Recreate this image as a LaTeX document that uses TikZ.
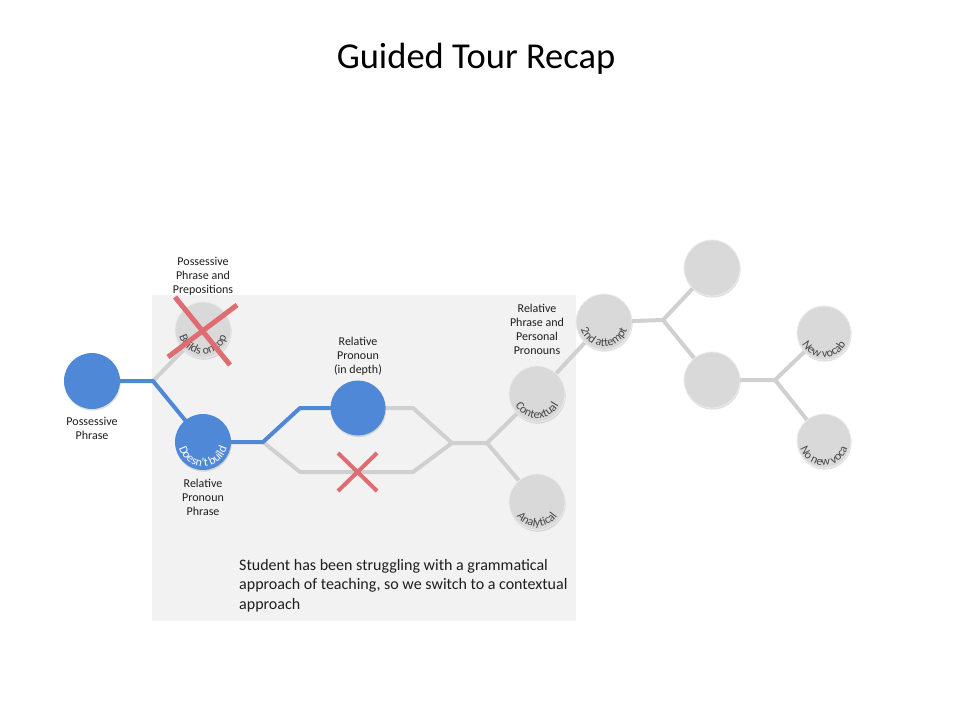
\documentclass[tikz,border=0pt]{standalone}
\usepackage{fontspec}
\setmainfont{Carlito}
\usetikzlibrary{decorations.text,shadows}
\definecolor{bluec}{RGB}{79,136,214}
\definecolor{grayc}{RGB}{217,217,217}
\definecolor{linec}{RGB}{208,208,208}
\definecolor{bgc}{RGB}{242,242,242}
\definecolor{redx}{RGB}{222,108,112}
\definecolor{labc}{RGB}{30,30,30}
\definecolor{arcc}{RGB}{70,70,70}
\newcommand\arctext[3]{%
  \path[decorate,decoration={text along path,text align=center,
    text={|\color{#3}\fontsize{12}{12}\selectfont|#2}}]
    ([shift={(160:24.5)}]#1.center) arc (160:380:24.5);}
\begin{document}
\begin{tikzpicture}[x=1pt,y=1pt,
  bubble/.style={circle,minimum size=56pt,inner sep=0pt,
    drop shadow={shadow xshift=0.6pt,shadow yshift=-1.6pt,opacity=0.25}},
  bluenode/.style={bubble,fill=bluec},
  graynode/.style={bubble,fill=grayc,draw=white!85!gray,line width=0.8pt},
  link/.style={line width=4pt,linec,line join=round},
  bluelink/.style={line width=4pt,bluec,line join=round},
  lab/.style={align=center,inner sep=0pt,text=labc,font=\fontsize{12}{14}\selectfont},
  redcross/.style={line width=5pt,redx}]
\useasboundingbox (0,0) rectangle (955,-716);
\fill[white] (0,0) rectangle (955,-716);
\fill[bgc] (152,-295) rectangle (576,-621);

\node[anchor=base,font=\fontsize{36.5}{44}\selectfont,inner sep=0pt] (title) at (476,-68) {Guided Tour Recap};

% junction coordinates
\coordinate (j1) at (153,-381);
\coordinate (j2) at (263,-442);
\coordinate (u1) at (300,-408);
\coordinate (u2) at (413,-408);
\coordinate (l1) at (300,-472);
\coordinate (l2) at (413,-472);
\coordinate (j3) at (452,-443);
\coordinate (j4) at (487,-443);
\coordinate (j5) at (663,-320);
\coordinate (j6) at (775,-380);

% node positions
\coordinate (pp) at (92,-381);
\coordinate (bt) at (203,-330);
\coordinate (db) at (203,-442);
\coordinate (rp) at (358,-408);
\coordinate (ct) at (537,-394);
\coordinate (an) at (537,-502);
\coordinate (sa) at (604,-322);
\coordinate (tp) at (712,-268);
\coordinate (md) at (712,-380);
\coordinate (nv) at (824,-333);
\coordinate (nn) at (824,-441);

% connectors
\draw[link] (j1) -- (bt);
\draw[link] (rp) -- (u2) -- (j3);
\draw[link] (j2) -- (l1) -- (l2) -- (j3) -- (j4);
\draw[link] (j4) -- (ct);
\draw[link] (j4) -- (an);
\draw[link] (ct) -- (sa);
\draw[link] (sa) -- (j5) -- (tp);
\draw[link] (j5) -- (md);
\draw[link] (md) -- (j6) -- (nv);
\draw[link] (j6) -- (nn);
\draw[bluelink] (pp) -- (j1) -- (db);
\draw[bluelink] (db) -- (j2) -- (u1) -- (rp);

% nodes
\node[bluenode] (ppn) at (pp) {};
\node[graynode] (btn) at (bt) {};
\node[bluenode] (dbn) at (db) {};
\node[bluenode,minimum size=55pt] (rpn) at (rp) {};
\node[graynode] (ctn) at (ct) {};
\node[graynode] (ann) at (an) {};
\node[graynode] (san) at (sa) {};
\node[graynode] (tpn) at (tp) {};
\node[graynode] (mdn) at (md) {};
\node[graynode,minimum size=54pt] (nvn) at (nv) {};
\node[graynode,minimum size=54pt] (nnn) at (nn) {};

% curved texts
\arctext{btn}{Builds on top}{arcc}
\arctext{dbn}{Doesn't build}{white}
\arctext{ctn}{Contextual}{arcc}
\arctext{ann}{Analytical}{arcc}
\arctext{san}{2nd attempt}{arcc}
\arctext{nvn}{New vocab}{arcc}
\arctext{nnn}{No new voca}{arcc}

% labels
\node[lab] (l_ppp) at (203,-276) {Possessive\\Phrase and\\Prepositions};
\node[lab] (l_pp) at (92,-428) {Possessive\\Phrase};
\node[lab] (l_rpp) at (203,-497) {Relative\\Pronoun\\Phrase};
\node[lab] (l_rp) at (358,-356) {Relative\\Pronoun\\(in depth)};
\node[lab] (l_rpe) at (537,-329.5) {Relative\\Phrase and\\Personal\\Pronouns};

\node[anchor=north west,align=left,inner sep=0pt,text=labc,
  font=\fontsize{16}{19.5}\selectfont] (note) at (239,-559)
  {Student has been struggling with a grammatical\\
   approach of teaching, so we switch to a contextual\\
   approach};

% red crosses
\draw[redcross] (175,-297) -- (230,-365);
\draw[redcross] (237,-305) -- (168,-357);
\draw[redcross,line width=4pt] (338,-453) -- (377,-491);
\draw[redcross,line width=4pt] (377,-453) -- (338,-491);
\end{tikzpicture}
\end{document}
